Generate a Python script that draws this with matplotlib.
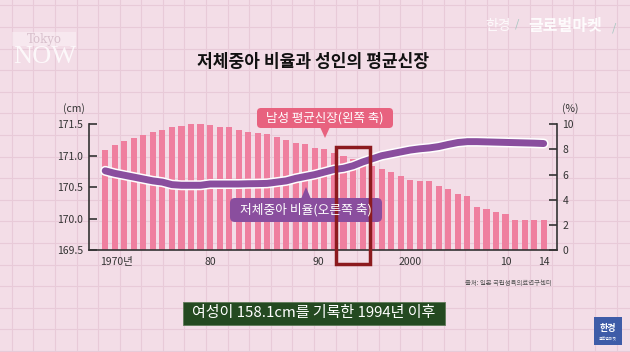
import numpy as np
import matplotlib
matplotlib.use("Agg")
import matplotlib.pyplot as plt
from matplotlib.patches import FancyBboxPatch, Rectangle, Polygon

plt.rcParams['font.family'] = ['Noto Sans CJK KR', 'DejaVu Sans']

# data
years = list(range(1968, 2015))
male_height = [171.09, 171.17, 171.23, 171.28, 171.33, 171.38, 171.41, 171.45, 171.47, 171.50,
               171.51, 171.49, 171.46, 171.45, 171.41, 171.38, 171.36, 171.35, 171.29, 171.25,
               171.21, 171.18, 171.12, 171.10, 171.05, 171.00, 170.94, 170.88, 170.83, 170.79,
               170.74, 170.68, 170.61, 170.60, 170.59, 170.52, 170.47, 170.39, 170.36, 170.19,
               170.15, 170.10, 170.08, 169.98, 169.98, 169.98, 169.98]
low_weight_pct = [6.3, 6.1, 5.95, 5.8, 5.65, 5.5, 5.4, 5.2, 5.15, 5.15,
                  5.15, 5.25, 5.25, 5.25, 5.25, 5.27, 5.28, 5.3, 5.4, 5.5,
                  5.7, 5.85, 6.0, 6.2, 6.4, 6.5, 6.7, 7.0, 7.25, 7.5,
                  7.65, 7.8, 7.95, 8.05, 8.12, 8.23, 8.4, 8.55, 8.62, 8.62,
                  8.6, 8.58, 8.56, 8.54, 8.52, 8.5, 8.47]
x_tick_years = [1969.2, 1979, 1990.4, 2000, 2010, 2014]
x_tick_labels = ['1970년', '80', '90', '2000', '10', '14']
left_ticks = [169.5, 170.0, 170.5, 171.0, 171.5]
right_ticks = [0, 2, 4, 6, 8, 10]

W, H = 630, 352
fig = plt.figure(figsize=(W / 100, H / 100), dpi=100)
fig.patch.set_facecolor('#F3DDE7')

# graph-paper background
bg = fig.add_axes([0, 0, 1, 1], zorder=-1)
bg.set_xlim(0, W)
bg.set_ylim(H, 0)
bg.axis('off')
for gx in np.arange(11.7, W, 21.6):
    bg.axvline(gx, color='#E8CAD8', lw=0.8)
for gy in np.arange(5.4, H, 21.6):
    bg.axhline(gy, color='#E8CAD8', lw=0.8)

# main chart
ax = fig.add_axes([89 / W, 1 - 250 / H, 468 / W, 125.7 / H], zorder=1)
ax.patch.set_visible(False)
ax.bar(years, male_height, width=0.64, color='#EF7F9F', zorder=2)
ax.set_ylim(169.5, 171.5)
ax.set_xlim(1966.3, 2015.4)
ax.set_yticks(left_ticks)
ax.set_yticklabels(['%.1f' % v for v in left_ticks])
ax.set_xticks(x_tick_years)
ax.set_xticklabels(x_tick_labels)
ax.tick_params(axis='y', direction='in', length=6, width=1.2, colors='#333333',
               labelsize=7.5, pad=4)
ax.tick_params(axis='x', length=0, labelsize=7.5, labelcolor='#333333', pad=5)
for s in ['top', 'right']:
    ax.spines[s].set_visible(False)
for s in ['left', 'bottom']:
    ax.spines[s].set_color('#333333')
    ax.spines[s].set_linewidth(1.2)

ax2 = ax.twinx()
ax2.plot(years, low_weight_pct, color='white', lw=7.2, solid_capstyle='round',
         solid_joinstyle='round')
ax2.plot(years, low_weight_pct, color='#8A4E9E', lw=5, solid_capstyle='round',
         solid_joinstyle='round')
ax2.set_ylim(0, 10)
ax2.set_yticks(right_ticks)
ax2.tick_params(axis='y', direction='in', length=6, width=1.2, colors='#333333',
                labelsize=7.5, pad=4)
for s in ['top', 'left', 'bottom']:
    ax2.spines[s].set_visible(False)
ax2.spines['right'].set_color('#333333')
ax2.spines['right'].set_linewidth(1.2)

# overlay in pixel units for the callouts and texts
ov = fig.add_axes([0, 0, 1, 1], zorder=5)
ov.set_xlim(0, W)
ov.set_ylim(H, 0)
ov.axis('off')

ov.text(W / 2 - 2, 62, '저체중아 비율과 성인의 평균신장', ha='center', va='center',
        fontsize=12.3, fontweight='heavy', color='#111111')
ov.text(74, 109, '(cm)', ha='center', va='center', fontsize=7.5, color='#333333')
ov.text(570, 109, '(%)', ha='center', va='center', fontsize=7.5, color='#333333')

# pink callout
ov.add_patch(FancyBboxPatch((257, 108), 136, 20, boxstyle='round,pad=0,rounding_size=4',
                            fc='#E8627F', ec='none'))
ov.add_patch(Polygon([(320, 127), (330, 127), (325, 138)], closed=True, fc='#E8627F', ec='none'))
ov.text(325, 118, '남성 평균신장(왼쪽 축)', ha='center', va='center', fontsize=9,
        fontweight='medium', color='white')

# purple callout
ov.add_patch(FancyBboxPatch((230, 198), 152, 24, boxstyle='round,pad=0,rounding_size=5',
                            fc='#8A4E9E', ec='none'))
ov.add_patch(Polygon([(301, 199), (311, 199), (306, 187)], closed=True, fc='#8A4E9E', ec='none'))
ov.text(306, 210, '저체중아 비율(오른쪽 축)', ha='center', va='center', fontsize=9.2,
        fontweight='medium', color='white')

# highlight box
ov.add_patch(Rectangle((336, 147), 34, 117, fill=False, ec='#8C1A1E', lw=2.5))

ov.text(508, 283, '출처: 일본 국립성육의료연구센터', ha='center', va='center',
        fontsize=4.6, color='#555555')

# caption
ov.add_patch(Rectangle((183, 302), 262, 23, fc='#244A21', ec='#5E7A58', lw=0.6))
ov.text(314, 313.5, '여성이 158.1cm를 기록한 1994년 이후', ha='center', va='center',
        fontsize=10.8, color='white')

# watermarks
ov.add_patch(Rectangle((12, 32), 64, 14, fc='white', alpha=0.35, ec='none'))
ov.text(44, 39, 'Tokyo', ha='center', va='center', fontsize=8.5, family='DejaVu Serif',
        color='#D8C0CC')
ov.text(45, 57, 'NOW', ha='center', va='center', fontsize=19, family='Liberation Serif',
        color='white', alpha=0.8)
ov.text(498, 26, '한경', ha='center', va='center', fontsize=10, color='white', alpha=0.85)
ov.text(517, 24, '/', ha='center', va='center', fontsize=8, color='#9CC4BC', alpha=0.9)
ov.text(565, 26, '글로벌마켓', ha='center', va='center', fontsize=11.5, fontweight='bold',
        color='white', alpha=0.9)
ov.text(614, 28, '/', ha='center', va='center', fontsize=8, color='#9CC4BC', alpha=0.9)

# bottom right logo
ov.add_patch(Rectangle((594, 317), 28, 28, fc='#3E5CA8', ec='none'))
ov.text(608, 328, '한경', ha='center', va='center', fontsize=6.5, fontweight='bold', color='white')
ov.text(608, 339, '글로벌마켓', ha='center', va='center', fontsize=2.8, color='white')

fig.savefig('out.png', dpi=100)
